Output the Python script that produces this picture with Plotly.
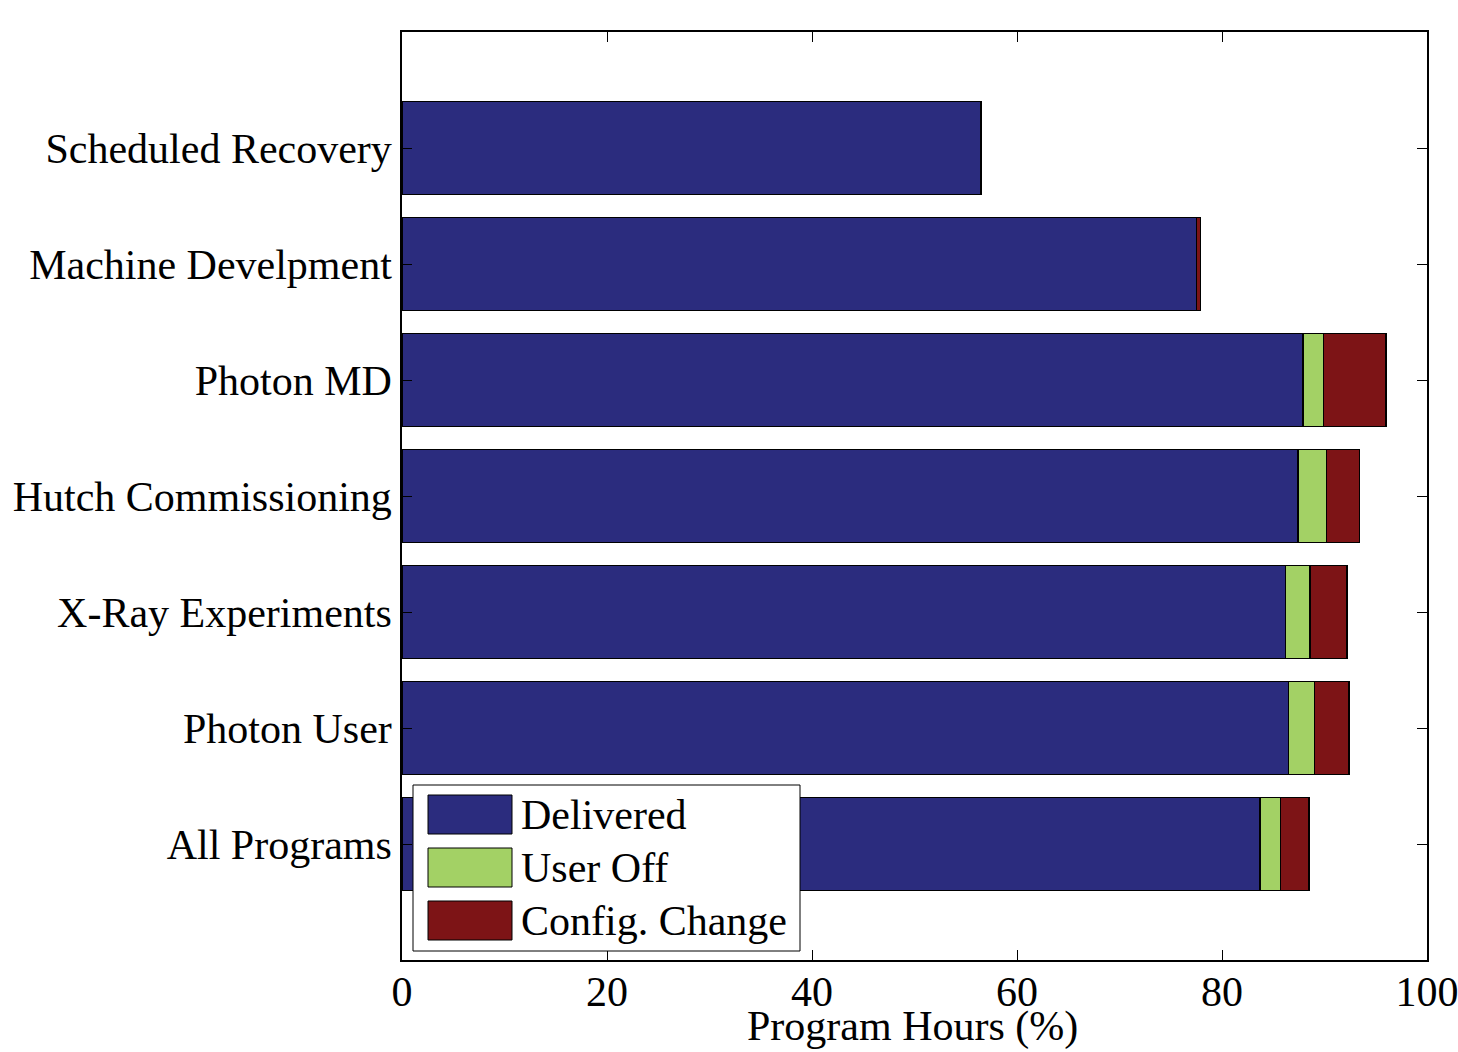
import plotly.graph_objects as go

# Program categories, bottom to top
programs = ["All Programs", "Photon User", "X-Ray Experiments", "Hutch Commissioning",
            "Photon MD", "Machine Develpment", "Scheduled Recovery"]

# Share of program hours (%) per category
delivered = [83.7, 86.5, 86.2, 87.4, 87.9, 77.5, 56.5]
user_off = [2.0, 2.5, 2.4, 2.8, 2.0, 0.0, 0.0]
config_change = [2.8, 3.4, 3.6, 3.2, 6.1, 0.4, 0.0]

series_names = ["Delivered", "User Off", "Config. Change"]
series_colors = ["#2b2c7e", "#a3d165", "#7d1416"]

x_ticks = [0, 20, 40, 60, 80, 100]

W, H = 1458, 1052
L, R, T, B = 402, 31, 32, 92
FONT = dict(family="Liberation Serif, Times New Roman, serif", size=42, color="black")

fig = go.Figure()
for name, vals, col in zip(series_names, [delivered, user_off, config_change], series_colors):
    fig.add_trace(go.Bar(
        y=programs, x=vals, name=name, orientation="h",
        marker=dict(color=col, line=dict(color="black", width=1.5)),
        width=0.8, showlegend=False,
    ))

# pixel -> paper helpers for the legend box
pw, ph = W - L - R, H - T - B
def px(x):
    return (x - L) / pw
def py(y):
    return (H - B - y) / ph

shapes = [dict(type="rect", xref="paper", yref="paper", x0=px(413), x1=px(800),
               y0=py(951), y1=py(785), fillcolor="white",
               line=dict(color="black", width=1), layer="above")]
annotations = []
row_tops = [795, 848, 901]
for name, col, top in zip(series_names, series_colors, row_tops):
    shapes.append(dict(type="rect", xref="paper", yref="paper", x0=px(428), x1=px(512),
                       y0=py(top + 39), y1=py(top), fillcolor=col,
                       line=dict(color="black", width=1), layer="above"))
    annotations.append(dict(xref="paper", yref="paper", x=px(519), y=py(top + 20),
                            text=name, showarrow=False, xanchor="left", yanchor="middle",
                            font=FONT))

# x-axis title, anchored to the page bottom
annotations.append(dict(xref="paper", yref="paper", x=px(912), y=py(H),
                        text="Program Hours (%)", showarrow=False, xanchor="center",
                        yanchor="bottom", font=FONT))

fig.update_layout(
    barmode="stack",
    width=W, height=H,
    margin=dict(l=L, r=R, t=T, b=B, autoexpand=False),
    paper_bgcolor="white", plot_bgcolor="white",
    font=FONT,
    shapes=shapes, annotations=annotations,
    xaxis=dict(range=[0, 100], tickvals=x_ticks, ticks="inside", ticklen=10,
               tickcolor="black", tickwidth=1, showline=True, linecolor="black",
               linewidth=1.5, mirror="ticks", showgrid=False, zeroline=False,
               ticklabelstandoff=-6, ticklabeloverflow="allow", automargin=False,
               tickfont=FONT),
    yaxis=dict(range=[-1, 7], ticks="inside", ticklen=10, tickcolor="black",
               tickwidth=1, showline=True, linecolor="black", linewidth=1.5,
               mirror="ticks", showgrid=False, zeroline=False, tickfont=FONT,
               automargin=False, ticklabeloverflow="allow",
               categoryorder="array", categoryarray=programs),
)

fig.write_html("out.html")
